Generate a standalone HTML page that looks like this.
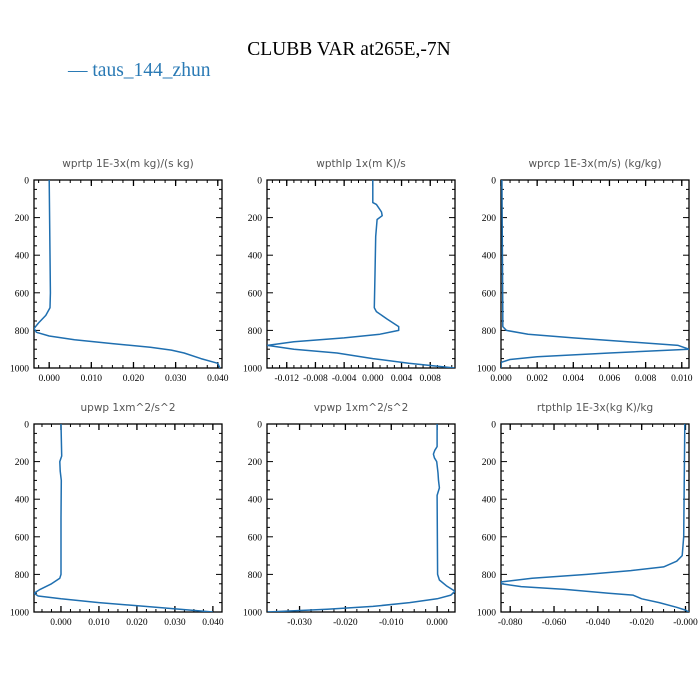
<!DOCTYPE html>
<html><head><meta charset="utf-8"><style>
body{margin:0;background:#fff;width:700px;height:700px;overflow:hidden}
svg{display:block}
</style></head><body>
<svg id="chart" width="700" height="700" xmlns="http://www.w3.org/2000/svg">
<text x="349" y="55" font-family="Liberation Serif, serif" font-size="19.5" text-anchor="middle" fill="#000">CLUBB VAR at265E,-7N</text>
<g>
<text x="68" y="76" font-family="Liberation Serif, serif" font-size="19.5" fill="#2a7ab5">— taus_144_zhun</text>
</g>
</svg>
<script>
const levels1=[0,600,680,720,760,790,810,830,850,870,890,905,920,950,975,1000];
const wprtp=[0,0.0003,0.0002,-0.0008,-0.0025,-0.0036,-0.003,0,0.006,0.015,0.024,0.029,0.032,0.036,0.040,0.0405];
const levels2=[0,120,130,170,190,210,300,500,680,700,740,780,800,820,840,860,880,900,920,950,975,1000];
const wpthlp=[0,0,0.0005,0.0012,0.0013,0.0006,0.0004,0.0003,0.0002,0.0005,0.002,0.0036,0.0036,0.001,-0.004,-0.011,-0.0147,-0.011,-0.005,0,0.005,0.0114];
const levels3=[0,700,780,800,820,840,860,880,900,920,940,955,970,1000];
const wprcp=[0.00005,0.0001,0.0001,0.0003,0.0015,0.004,0.007,0.0098,0.0104,0.006,0.002,0.0005,0,0];
const levels4=[0,170,200,250,300,500,800,820,850,880,900,915,930,950,975,1000];
const upwp=[0,0.0002,-0.0003,-0.0002,0.0001,0,0,-0.0003,-0.0025,-0.0055,-0.0071,-0.006,0,0.010,0.025,0.040];
const levels5=[0,120,140,160,180,200,260,300,340,380,800,830,860,890,910,930,950,970,985,1000];
const vpwp=[0,0,-0.0005,-0.0008,-0.0006,-0.0001,0.0002,0.0003,0.0005,0,0.0001,0.0005,0.002,0.0039,0.003,0,-0.006,-0.014,-0.024,-0.037];
const levels6=[0,600,700,730,760,780,800,820,840,850,865,880,900,910,930,950,975,990,1000];
const rtpthlp=[-0.0003,-0.0008,-0.0015,-0.004,-0.010,-0.025,-0.045,-0.070,-0.084,-0.084,-0.075,-0.055,-0.035,-0.024,-0.020,-0.012,-0.004,0,0.0015];
const ticks1=[0,0.01,0.02,0.03,0.04];
const tickLabels1=["0.000","0.010","0.020","0.030","0.040"];
const ticks2=[-0.012,-0.008,-0.004,0,0.004,0.008];
const tickLabels2=["-0.012","-0.008","-0.004","0.000","0.004","0.008"];
const ticks3=[0,0.002,0.004,0.006,0.008,0.010];
const tickLabels3=["0.000","0.002","0.004","0.006","0.008","0.010"];
const ticks4=[0,0.01,0.02,0.03,0.04];
const tickLabels4=["0.000","0.010","0.020","0.030","0.040"];
const ticks5=[-0.03,-0.02,-0.01,0];
const tickLabels5=["-0.030","-0.020","-0.010","0.000"];
const ticks6=[-0.08,-0.06,-0.04,-0.02,0];
const tickLabels6=["-0.080","-0.060","-0.040","-0.020","-0.000"];
const yTicks=[0,200,400,600,800,1000];
const yTickLabels=["0","200","400","600","800","1000"];

const NS="http://www.w3.org/2000/svg";
const svg=document.getElementById('chart');
function mk(tag,attrs,parent){const e=document.createElementNS(NS,tag);for(const k in attrs)e.setAttribute(k,attrs[k]);parent.appendChild(e);return e;}

const panels=[
 {name:'wprtp',title:'wprtp  1E-3x(m kg)/(s kg)',x:34,y:180,xmin:-0.0036,xmax:0.041,minor:0.0025,lv:levels1,v:wprtp,t:ticks1,tl:tickLabels1},
 {name:'wpthlp',title:'wpthlp  1x(m K)/s',x:267,y:180,xmin:-0.01475,xmax:0.01145,minor:0.001,lv:levels2,v:wpthlp,t:ticks2,tl:tickLabels2},
 {name:'wprcp',title:'wprcp  1E-3x(m/s) (kg/kg)',x:501,y:180,xmin:0,xmax:0.0104,minor:0.0005,lv:levels3,v:wprcp,t:ticks3,tl:tickLabels3},
 {name:'upwp',title:'upwp  1xm^2/s^2',x:34,y:424,xmin:-0.0071,xmax:0.0424,minor:0.0025,lv:levels4,v:upwp,t:ticks4,tl:tickLabels4},
 {name:'vpwp',title:'vpwp  1xm^2/s^2',x:267,y:424,xmin:-0.0371,xmax:0.0039,minor:0.0025,lv:levels5,v:vpwp,t:ticks5,tl:tickLabels5},
 {name:'rtpthlp',title:'rtpthlp  1E-3x(kg K)/kg',x:501,y:424,xmin:-0.0842,xmax:0.0016,minor:0.005,lv:levels6,v:rtpthlp,t:ticks6,tl:tickLabels6}
];
const W=188,H=188;
panels.forEach(p=>{
 const g=mk('g',{},svg);
 
 
 const sx=v=>p.x+(v-p.xmin)/(p.xmax-p.xmin)*W;
 const sy=v=>p.y+v/1000*H;
 const t=mk('text',{x:p.x+W/2,y:p.y-13,'font-family':'DejaVu Sans, sans-serif','font-size':'10.5','text-anchor':'middle',fill:'#555'},g);
 t.textContent=p.title;
 
 
 // minor/major y ticks
 for(let v=0;v<=1000;v+=50){
  const len=(v%200===0)?6:3;const yy=sy(v);
  mk('line',{x1:p.x,y1:yy,x2:p.x+len,y2:yy,stroke:'#000','stroke-width':1},g);
  mk('line',{x1:p.x+W,y1:yy,x2:p.x+W-len,y2:yy,stroke:'#000','stroke-width':1},g);
 }
 // minor x ticks
 const s=Math.ceil(p.xmin/p.minor);
 for(let i=s;i*p.minor<=p.xmax;i++){const xx=sx(i*p.minor);
  mk('line',{x1:xx,y1:p.y,x2:xx,y2:p.y+3,stroke:'#000','stroke-width':1},g);
  mk('line',{x1:xx,y1:p.y+H,x2:xx,y2:p.y+H-3,stroke:'#000','stroke-width':1},g);}
 p.t.forEach((v,i)=>{const xx=sx(v);
  mk('line',{x1:xx,y1:p.y,x2:xx,y2:p.y+6,stroke:'#000','stroke-width':1.3},g);
  mk('line',{x1:xx,y1:p.y+H,x2:xx,y2:p.y+H-6,stroke:'#000','stroke-width':1.3},g);
  const l=mk('text',{x:xx,y:p.y+H+13,'font-family':'Liberation Serif, serif','font-size':'9.5','text-anchor':'middle',fill:'#000'},g);
  l.textContent=p.tl[i];
  
  
 });
 yTicks.forEach((v,i)=>{
  const l=mk('text',{x:p.x-5,y:sy(v)+3.5,'font-family':'Liberation Serif, serif','font-size':'9.5','text-anchor':'end',fill:'#000'},g);
  l.textContent=yTickLabels[i];
  
  
 });
 const fr=mk('rect',{x:p.x,y:p.y,width:W,height:H,fill:'none',stroke:'#000','stroke-width':1.3},g);
 
 
 const cp=mk('clipPath',{id:'c'+p.name},g);
 mk('rect',{x:p.x,y:p.y,width:W,height:H},cp);
 const pts=p.lv.map((lv,i)=>sx(p.v[i]).toFixed(1)+','+sy(lv).toFixed(1)).join(' ');
 const pl=mk('polyline',{points:pts,fill:'none',stroke:'#1f6fb0','stroke-width':1.5,'clip-path':'url(#c'+p.name+')','stroke-linejoin':'round'},g);
 
 
});
</script>
</body></html>
